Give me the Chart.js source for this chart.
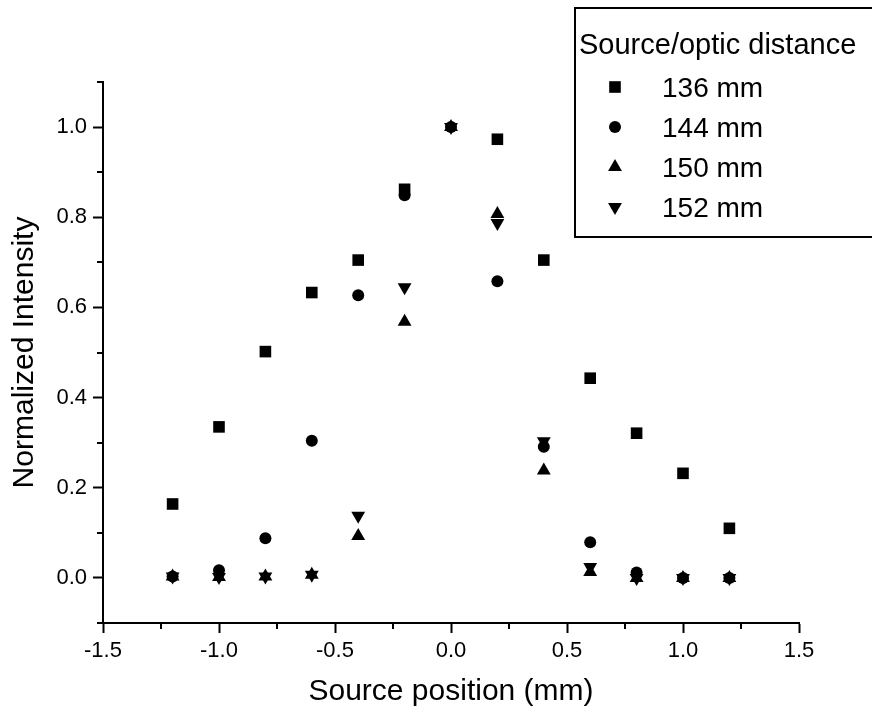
<!DOCTYPE html>
<html>
<head>
<meta charset="utf-8">
<script src="https://cdn.jsdelivr.net/npm/chart.js@4/dist/chart.umd.min.js"></script>
<style>
  html, body { margin: 0; padding: 0; background: #fff; }
  #wrap { width: 872px; height: 708px; position: relative; }
</style>
</head>
<body>
<div id="wrap"><canvas id="c" width="872" height="708"></canvas></div>
<script>
// ---- data ----
const positions = [-1.2, -1.0, -0.8, -0.6, -0.4, -0.2, 0.0, 0.2, 0.4, 0.6, 0.8, 1.0, 1.2];
const seriesNames = ['136 mm', '144 mm', '150 mm', '152 mm'];
const s136 = [0.164, 0.335, 0.502, 0.633, 0.705, 0.862, null, 0.973, 0.705, 0.443, 0.321, 0.232, 0.110];
const s144 = [0.003, 0.017, 0.088, 0.304, 0.627, 0.849, 1.000, 0.658, 0.291, 0.079, 0.012, 0.000, 0.000];
const s150 = [0.003, 0.002, 0.003, 0.007, 0.093, 0.568, 1.000, 0.807, 0.238, 0.013, 0.000, 0.000, 0.000];
const s152 = [0.003, 0.002, 0.003, 0.007, 0.138, 0.645, 1.000, 0.787, 0.303, 0.024, 0.000, 0.000, 0.000];
const xMajorTicks = [-1.5, -1.0, -0.5, 0.0, 0.5, 1.0, 1.5];
const yMajorTicks = [0.0, 0.2, 0.4, 0.6, 0.8, 1.0];
const xMinorTicks = [-1.25, -0.75, -0.25, 0.25, 0.75, 1.25];
const yMinorTicks = [-0.1, 0.1, 0.3, 0.5, 0.7, 0.9, 1.1];
const legendTitle = 'Source/optic distance';
const xTitle = 'Source position (mm)';
const yTitle = 'Normalized Intensity';

const FONT = "'Liberation Sans', Arial, Helvetica, sans-serif";

function toPoints(vals) {
  const out = [];
  positions.forEach((x, i) => { if (vals[i] !== null) out.push({x: x, y: vals[i]}); });
  return out;
}

const styles = [
  {pointStyle: 'rect', pointRadius: 8.2, rotation: 0},
  {pointStyle: 'circle', pointRadius: 6, rotation: 0},
  {pointStyle: 'triangle', pointRadius: 8, rotation: 0},
  {pointStyle: 'triangle', pointRadius: 8, rotation: 180}
];
const allSeries = [s136, s144, s150, s152];

const datasets = allSeries.map((vals, i) => ({
  label: seriesNames[i],
  data: toPoints(vals),
  showLine: false,
  pointStyle: styles[i].pointStyle,
  pointRadius: styles[i].pointRadius,
  pointHoverRadius: styles[i].pointRadius,
  pointRotation: styles[i].rotation,
  backgroundColor: '#000',
  borderColor: '#000',
  borderWidth: 0,
  order: 4 - i
}));

function drawMarker(ctx, st, x, y) {
  const r = st.pointRadius;
  ctx.save();
  ctx.fillStyle = '#000';
  ctx.beginPath();
  if (st.pointStyle === 'rect') {
    const s = Math.SQRT1_2 * r;
    ctx.rect(x - s, y - s, 2 * s, 2 * s);
  } else if (st.pointStyle === 'circle') {
    ctx.arc(x, y, r, 0, Math.PI * 2);
  } else {
    const dir = st.rotation === 180 ? -1 : 1;
    ctx.moveTo(x, y - dir * r);
    ctx.lineTo(x + 0.866 * r, y + dir * r / 2);
    ctx.lineTo(x - 0.866 * r, y + dir * r / 2);
    ctx.closePath();
  }
  ctx.fill();
  ctx.restore();
}

const extras = {
  id: 'extras',
  afterDraw(chart) {
    const ctx = chart.ctx;
    const xs = chart.scales.x, ys = chart.scales.y;
    const area = chart.chartArea;
    // minor ticks
    ctx.save();
    ctx.strokeStyle = '#000';
    ctx.lineWidth = 2;
    ctx.beginPath();
    yMinorTicks.forEach(v => {
      const py = Math.round(ys.getPixelForValue(v));
      ctx.moveTo(area.left, py);
      ctx.lineTo(area.left - 6, py);
    });
    xMinorTicks.forEach(v => {
      const px = Math.round(xs.getPixelForValue(v));
      ctx.moveTo(px, area.bottom);
      ctx.lineTo(px, area.bottom + 6);
    });
    ctx.stroke();
    ctx.restore();

    // legend box
    ctx.save();
    ctx.fillStyle = '#fff';
    ctx.fillRect(575, 8, 300, 229);
    ctx.strokeStyle = '#000';
    ctx.lineWidth = 2;
    ctx.strokeRect(575, 8, 300, 229);
    ctx.fillStyle = '#000';
    ctx.textBaseline = 'alphabetic';
    ctx.textAlign = 'left';
    ctx.font = '29px ' + FONT;
    ctx.fillText(legendTitle, 579, 54);
    ctx.font = '28px ' + FONT;
    chart.data.datasets.forEach((ds, i) => {
      const cy = 87 + i * 40;
      drawMarker(ctx, styles[i], 615, cy);
      ctx.fillText(ds.label, 662, cy + 10);
    });
    ctx.restore();
  }
};

new Chart(document.getElementById('c'), {
  type: 'scatter',
  data: { datasets: datasets },
  options: {
    responsive: false,
    animation: false,
    devicePixelRatio: 1,
    layout: { padding: { left: 0, top: 82, right: 73, bottom: 0 } },
    plugins: { legend: { display: false }, tooltip: { enabled: false } },
    scales: {
      x: {
        type: 'linear',
        min: -1.5, max: 1.5,
        afterBuildTicks(s) { s.ticks = xMajorTicks.map(v => ({value: v})); },
        afterFit(s) { s.height = 85; },
        border: { display: true, color: '#000', width: 2 },
        grid: { display: true, drawOnChartArea: false, drawTicks: true, tickLength: 10, tickColor: '#000', tickWidth: 2, color: '#000' },
        ticks: {
          color: '#000',
          padding: 5,
          maxRotation: 0,
          autoSkip: false,
          font: { family: FONT, size: 22 },
          callback: v => Number(v).toFixed(1)
        },
        title: { display: true, text: xTitle, color: '#000', font: { family: FONT, size: 30, lineHeight: 1 }, padding: { top: 0, bottom: 1 } }
      },
      y: {
        type: 'linear',
        min: -0.1, max: 1.1,
        afterBuildTicks(s) { s.ticks = yMajorTicks.map(v => ({value: v})); },
        afterFit(s) { s.width = 103; },
        border: { display: true, color: '#000', width: 2 },
        grid: { display: true, drawOnChartArea: false, drawTicks: true, tickLength: 10, tickColor: '#000', tickWidth: 2, color: '#000' },
        ticks: {
          color: '#000',
          padding: 6,
          autoSkip: false,
          font: { family: FONT, size: 22 },
          callback: v => Number(v).toFixed(1)
        },
        title: { display: true, text: yTitle, color: '#000', font: { family: FONT, size: 30, lineHeight: 1 }, padding: { top: 10, bottom: 0 } }
      }
    }
  },
  plugins: [extras]
});
</script>
</body>
</html>
